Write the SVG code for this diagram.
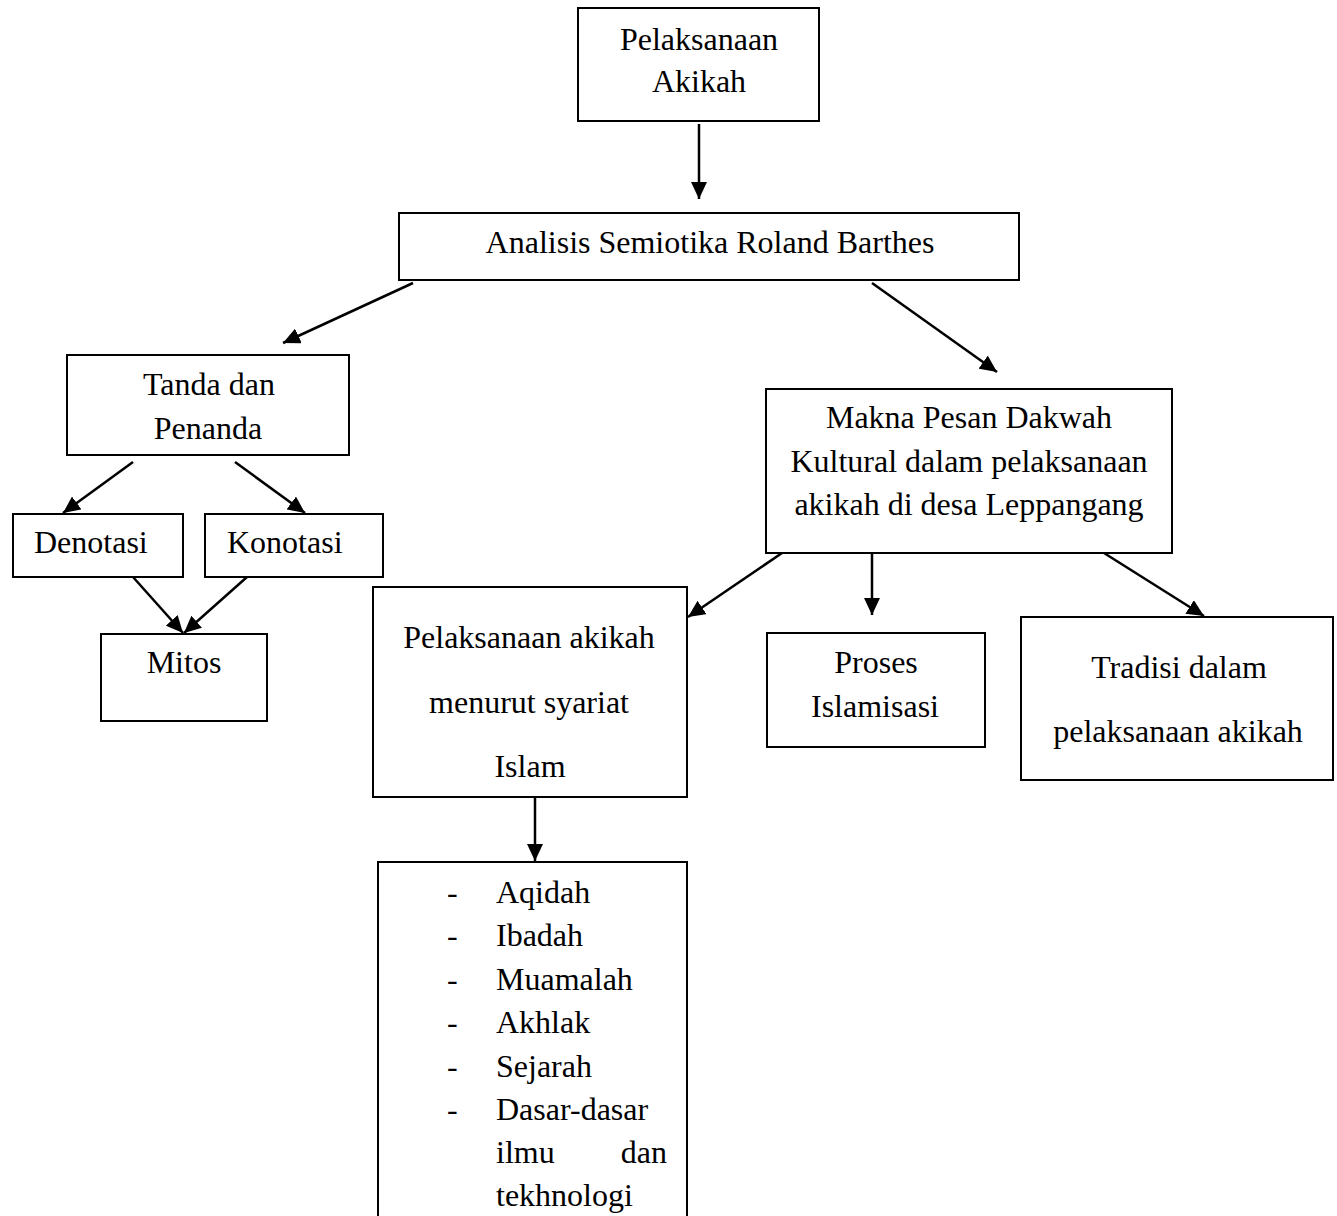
<svg xmlns="http://www.w3.org/2000/svg" width="1337" height="1216" viewBox="0 0 1337 1216">
<style>
  .box { fill: #fff; stroke: #000; stroke-width: 2; }
  .t { font-family: "Liberation Serif", "Times New Roman", serif; font-size: 32px; fill: #000; }
  .c { text-anchor: middle; }
  .conn line { stroke: #000; stroke-width: 2.5; marker-end: url(#ah); }
</style>
<defs>
  <marker id="ah" markerUnits="userSpaceOnUse" markerWidth="18" markerHeight="16" refX="17" refY="8" orient="auto">
    <path d="M0,0 L17,8 L0,16 z" fill="#000"/>
  </marker>
</defs>
<rect width="1337" height="1216" fill="#fff"/>

<g id="n-pelaksanaan">
  <rect class="box" x="578" y="8" width="241" height="113"/>
  <text class="t c" x="699" y="50">Pelaksanaan</text>
  <text class="t c" x="699" y="92">Akikah</text>
</g>
<g id="n-analisis">
  <rect class="box" x="399" y="213" width="620" height="67"/>
  <text class="t c" x="710" y="253">Analisis Semiotika Roland Barthes</text>
</g>
<g id="n-tanda">
  <rect class="box" x="67" y="355" width="282" height="100"/>
  <text class="t c" x="209" y="395">Tanda dan</text>
  <text class="t c" x="208" y="439">Penanda</text>
</g>
<g id="n-denotasi">
  <rect class="box" x="13" y="514" width="170" height="63"/>
  <text class="t" x="34" y="553">Denotasi</text>
</g>
<g id="n-konotasi">
  <rect class="box" x="205" y="514" width="178" height="63"/>
  <text class="t" x="227" y="553">Konotasi</text>
</g>
<g id="n-mitos">
  <rect class="box" x="101" y="634" width="166" height="87"/>
  <text class="t c" x="184" y="673">Mitos</text>
</g>
<g id="n-makna">
  <rect class="box" x="766" y="389" width="406" height="164"/>
  <text class="t c" x="969" y="428">Makna Pesan Dakwah</text>
  <text class="t c" x="969" y="472">Kultural dalam pelaksanaan</text>
  <text class="t c" x="969" y="515">akikah di desa Leppangang</text>
</g>
<g id="n-syariat">
  <rect class="box" x="373" y="587" width="314" height="210"/>
  <text class="t c" x="529" y="648">Pelaksanaan akikah</text>
  <text class="t c" x="529" y="713">menurut syariat</text>
  <text class="t c" x="530" y="777">Islam</text>
</g>
<g id="n-proses">
  <rect class="box" x="767" y="633" width="218" height="114"/>
  <text class="t c" x="876" y="673">Proses</text>
  <text class="t c" x="875" y="717">Islamisasi</text>
</g>
<g id="n-tradisi">
  <rect class="box" x="1021" y="617" width="312" height="163"/>
  <text class="t c" x="1179" y="678">Tradisi dalam</text>
  <text class="t c" x="1178" y="742">pelaksanaan akikah</text>
</g>
<g id="n-list">
  <path class="box" d="M378,1216 L378,862 L687,862 L687,1216" />
  <g class="t">
    <text x="447" y="903">-</text><text x="496" y="903">Aqidah</text>
    <text x="447" y="946">-</text><text x="496" y="946">Ibadah</text>
    <text x="447" y="990">-</text><text x="496" y="990">Muamalah</text>
    <text x="447" y="1033">-</text><text x="496" y="1033">Akhlak</text>
    <text x="447" y="1077">-</text><text x="496" y="1077">Sejarah</text>
    <text x="447" y="1120">-</text><text x="496" y="1120">Dasar-dasar</text>
    <text x="496" y="1163">ilmu</text><text x="667" y="1163" text-anchor="end">dan</text>
    <text x="496" y="1206">tekhnologi</text>
  </g>
</g>

<g id="connectors" class="conn">
  <line x1="699" y1="124" x2="699" y2="199"/>
  <line x1="413" y1="283" x2="283" y2="343"/>
  <line x1="872" y1="283" x2="997" y2="372"/>
  <line x1="133" y1="462" x2="63" y2="513"/>
  <line x1="235" y1="462" x2="305" y2="513"/>
  <line x1="133" y1="577" x2="183" y2="633"/>
  <line x1="247" y1="577" x2="184" y2="633"/>
  <line x1="782" y1="553" x2="688" y2="617"/>
  <line x1="872" y1="553" x2="872" y2="615"/>
  <line x1="1104" y1="553" x2="1204" y2="616"/>
  <line x1="535" y1="797" x2="535" y2="861"/>
</g>
</svg>
